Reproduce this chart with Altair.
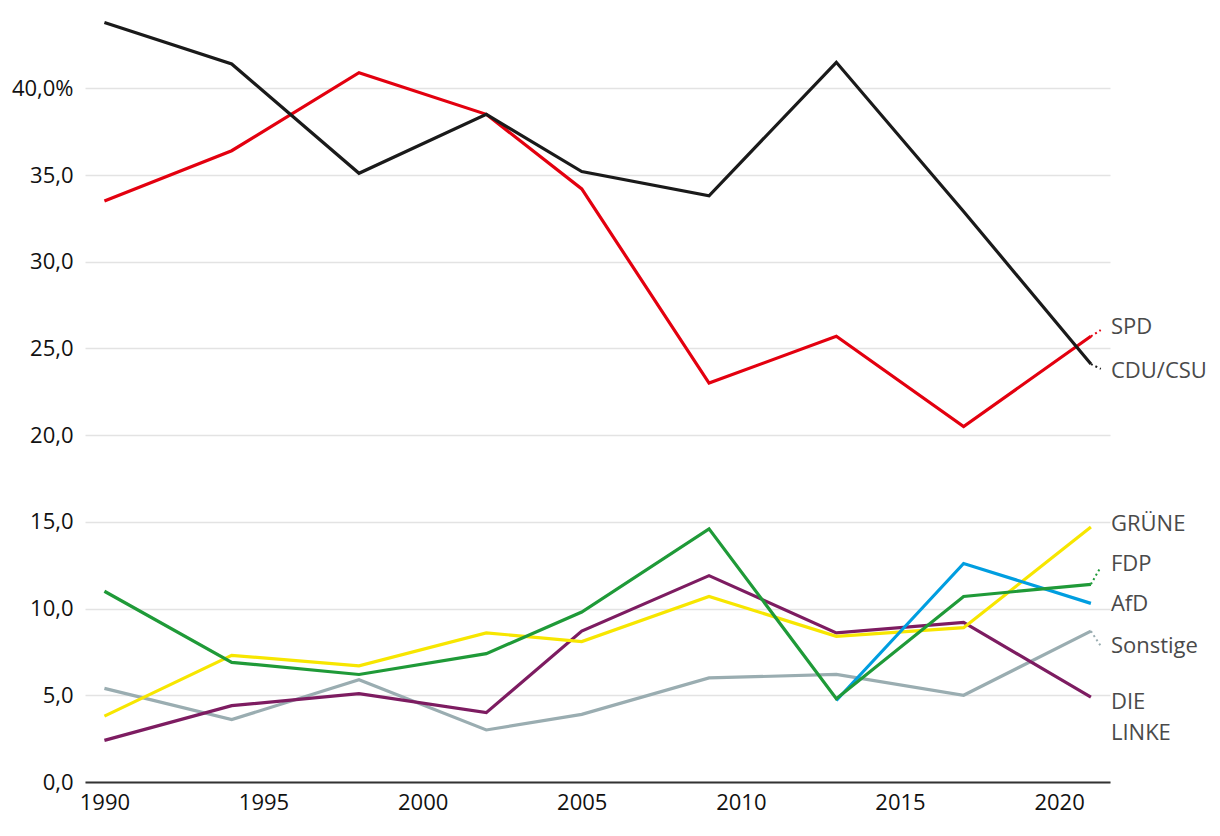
import altair as alt
import pandas as pd

years = [1990, 1994, 1998, 2002, 2005, 2009, 2013, 2017, 2021]
cdu = [43.8, 41.4, 35.1, 38.5, 35.2, 33.8, 41.5, 32.9, 24.1]
spd = [33.5, 36.4, 40.9, 38.5, 34.2, 23.0, 25.7, 20.5, 25.7]
gruene = [3.8, 7.3, 6.7, 8.6, 8.1, 10.7, 8.4, 8.9, 14.7]
fdp = [11.0, 6.9, 6.2, 7.4, 9.8, 14.6, 4.8, 10.7, 11.4]
afd = [None, None, None, None, None, None, 4.7, 12.6, 10.3]
linke = [2.4, 4.4, 5.1, 4.0, 8.7, 11.9, 8.6, 9.2, 4.9]
sonstige = [5.4, 3.6, 5.9, 3.0, 3.9, 6.0, 6.2, 5.0, 8.7]

parties = ["Sonstige", "DIE LINKE", "GRÜNE", "AfD", "FDP", "SPD", "CDU/CSU"]
series = {"CDU/CSU": cdu, "SPD": spd, "GRÜNE": gruene, "FDP": fdp,
          "AfD": afd, "DIE LINKE": linke, "Sonstige": sonstige}
colors = {"CDU/CSU": "#1a1a1a", "SPD": "#e3000f", "GRÜNE": "#f7e600",
          "FDP": "#1f9a38", "AfD": "#009ee0", "DIE LINKE": "#7d1c61",
          "Sonstige": "#9aadb1"}

# label layout (data units)
label_text = {"SPD": "SPD", "CDU/CSU": "CDU/CSU", "GRÜNE": "GRÜNE", "FDP": "FDP",
              "AfD": "AfD", "Sonstige": "Sonstige", "DIE LINKE": "DIE\nLINKE"}
label_y = {"SPD": 26.24, "CDU/CSU": 23.70, "GRÜNE": 14.88, "FDP": 12.57,
           "AfD": 10.26, "Sonstige": 7.84, "DIE LINKE": 4.61}
connector_y = {"SPD": 26.06, "CDU/CSU": 23.82, "FDP": 12.4, "Sonstige": 7.84}

rows = []
for p in parties:
    for yr, v in zip(years, series[p]):
        if v is not None:
            rows.append({"party": p, "year": yr, "value": v})
df = pd.DataFrame(rows)

xscale = alt.Scale(domain=[1989.39, 2021.6], nice=False, zero=False)
yscale = alt.Scale(domain=[0, 44.4], nice=False)
font = "Open Sans"

xaxis = alt.Axis(values=[1990, 1995, 2000, 2005, 2010, 2015, 2020], format="d",
                 title=None, grid=False, ticks=False, domainColor="#333333",
                 domainWidth=2, labelFontSize=22, labelFont=font,
                 labelColor="#111111", labelPadding=10)
yaxis = alt.Axis(values=[0, 5, 10, 15, 20, 25, 30, 35, 40], title=None,
                 domain=False, ticks=False, gridColor="#e3e3e3", gridWidth=1.5,
                 labelFontSize=22, labelFont=font, labelColor="#111111",
                 labelPadding=12,
                 labelExpr="datum.value == 40 ? '40,0%' : replace(format(datum.value, '.1f'), '.', ',')")

layers = []
for p in parties:
    layers.append(
        alt.Chart(df[df.party == p]).mark_line(color=colors[p], strokeWidth=3.2)
        .encode(x=alt.X("year:Q", scale=xscale, axis=xaxis),
                y=alt.Y("value:Q", scale=yscale, axis=yaxis))
    )

conn = pd.DataFrame([
    {"party": p, "x": 2021, "y": series[p][-1], "x2": 2021.31, "y2": connector_y[p]}
    for p in connector_y
])
color_scale = alt.Scale(domain=parties, range=[colors[p] for p in parties])
connectors = alt.Chart(conn).mark_rule(strokeWidth=2, strokeDash=[2, 3]).encode(
    x=alt.X("x:Q", scale=xscale), y=alt.Y("y:Q", scale=yscale),
    x2="x2:Q", y2="y2:Q",
    color=alt.Color("party:N", scale=color_scale, legend=None))

labels_df = pd.DataFrame([
    {"party": p, "label": label_text[p], "x": 2021.63, "y": label_y[p]} for p in parties
])
labels = alt.Chart(labels_df).mark_text(
    align="left", baseline="middle", fontSize=22, font=font, color="#4a4a4a",
    lineBreak="\n", lineHeight=31).encode(
    x=alt.X("x:Q", scale=xscale), y=alt.Y("y:Q", scale=yscale), text="label:N")

chart = alt.layer(*layers, connectors, labels).properties(
    width=1025, height=770,
    autosize=alt.AutoSizeParams(type="none"),
    padding={"left": 77, "top": 4, "right": 100, "bottom": 40},
    background="white",
).configure_view(stroke=None)

chart.save("out.html", embed_options={"renderer": "svg", "actions": False})
